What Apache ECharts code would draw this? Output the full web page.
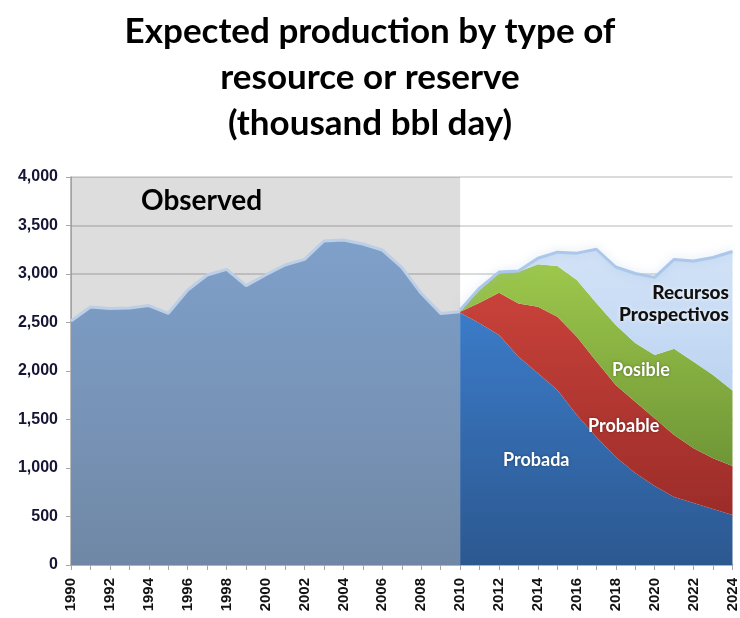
<!DOCTYPE html>
<html>
<head>
<meta charset="utf-8">
<script src="https://cdn.jsdelivr.net/npm/echarts@6/dist/echarts.min.js"></script>
<style>
html,body{margin:0;padding:0;background:#fff;}
#chart{width:740px;height:618px;}
</style>
</head>
<body>
<div id="chart"></div>
<script>
// ---- data ----
const years = [];
for (let y = 1990; y <= 2024; y++) years.push(String(y));

const observedYears = ['1990','1991','1992','1993','1994','1995','1996','1997','1998','1999','2000',
  '2001','2002','2003','2004','2005','2006','2007','2008','2009','2010'];
const observed = [2515, 2660, 2645, 2650, 2675, 2595, 2835, 2990, 3048, 2880, 2990,
  3093, 3151, 3340, 3350, 3309, 3247, 3069, 2801, 2594, 2610];

const forecastYears = ['2010','2011','2012','2013','2014','2015','2016','2017','2018','2019','2020','2021','2022','2023','2024'];
const probada  = [2600, 2491, 2371, 2148, 1976, 1804, 1546, 1320, 1113, 948, 814, 701, 639, 577, 515];
const probable = [10, 213, 436, 549, 687, 756, 808, 780, 743, 736, 698, 639, 564, 523, 505];
const posible  = [10, 131, 200, 327, 437, 522, 584, 601, 618, 605, 653, 890, 892, 860, 780];
const recursos = [10, 20, 13, 6, 62, 143, 277, 554, 598, 716, 800, 920, 1040, 1210, 1432];

const yTicks = [0, 500, 1000, 1500, 2000, 2500, 3000, 3500, 4000];
const observedPanel = ['1990', '2010'];

// ---- helpers ----
function alignTo(cats, vals) {
  const m = {};
  cats.forEach((c, i) => m[c] = vals[i]);
  return years.map(y => (y in m ? m[y] : null));
}
function grad(top, bottom) {
  return new echarts.graphic.LinearGradient(0, 0, 0, 1, [
    { offset: 0, color: top }, { offset: 1, color: bottom }
  ]);
}

const chart = echarts.init(document.getElementById('chart'), null, { renderer: 'canvas' });

const labelFont = '"Liberation Sans", Arial, sans-serif';
const calibriLike = 'Lato, "Open Sans", sans-serif';
const whiteLabel = { fontFamily: calibriLike, fontWeight: 'bold', fontSize: 18, fill: '#fff',
                     textShadowColor: 'rgba(0,0,0,0.35)', textShadowBlur: 3 };
const darkLabel = { fontFamily: calibriLike, fontWeight: 900, fontSize: 19, fill: '#111',
                    textShadowColor: 'rgba(255,255,255,0.9)', textShadowBlur: 4 };

const option = {
  animation: false,
  backgroundColor: '#ffffff',
  title: {
    text: 'Expected production by type of\nresource or reserve\n(thousand bbl day)',
    left: 'center',
    top: 4,
    textStyle: {
      fontFamily: calibriLike, fontWeight: 'bold', fontSize: 35,
      lineHeight: 46, color: '#000', align: 'center'
    }
  },
  grid: { left: 71, right: 2, top: 177, bottom: 53, containLabel: false },
  xAxis: {
    type: 'category',
    data: years,
    boundaryGap: false,
    axisLine: { lineStyle: { color: '#a6a6a6', width: 1.5 } },
    axisTick: { show: true, interval: 0, length: 5, lineStyle: { color: '#a6a6a6' } },
    axisLabel: {
      interval: 1, rotate: 90, margin: 13,
      fontFamily: labelFont, fontWeight: 'bold', fontSize: 15, color: '#111'
    },
    splitLine: { show: false }
  },
  yAxis: {
    type: 'value',
    min: yTicks[0], max: yTicks[yTicks.length - 1], interval: 500,
    axisLine: { show: true, lineStyle: { color: '#a6a6a6', width: 1.5 } },
    axisTick: { show: true, length: 5, lineStyle: { color: '#a6a6a6' } },
    axisLabel: {
      margin: 13, fontFamily: labelFont, fontWeight: 'bold', fontSize: 16, color: '#151535',
      formatter: v => v.toLocaleString('en-US')
    },
    splitLine: { lineStyle: { color: '#cfcfcf', width: 1.5 } }
  },
  series: [
    {
      name: 'Observed', type: 'line', data: alignTo(observedYears, observed),
      symbol: 'none', z: 2,
      lineStyle: { color: '#bccfe6', width: 3 },
      areaStyle: { color: grad('#7fa0ca', '#7088a6'), opacity: 1 },
      markArea: {
        silent: true,
        itemStyle: { color: 'rgba(0,0,0,0.135)' },
        data: [[{ xAxis: observedPanel[0] }, { xAxis: observedPanel[1] }]]
      }
    },
    {
      name: 'Probada', type: 'line', stack: 'f', data: alignTo(forecastYears, probada),
      symbol: 'none', z: 3,
      lineStyle: { width: 0 },
      areaStyle: { color: grad('#3b7bc8', '#2c5890'), opacity: 1 }
    },
    {
      name: 'Probable', type: 'line', stack: 'f', data: alignTo(forecastYears, probable),
      symbol: 'none', z: 3,
      lineStyle: { width: 0 },
      areaStyle: { color: grad('#c8423a', '#9c2c29'), opacity: 1 }
    },
    {
      name: 'Posible', type: 'line', stack: 'f', data: alignTo(forecastYears, posible),
      symbol: 'none', z: 3,
      lineStyle: { width: 0 },
      areaStyle: { color: grad('#9dc84c', '#6f9636'), opacity: 1 }
    },
    {
      name: 'Recursos Prospectivos', type: 'line', stack: 'f', data: alignTo(forecastYears, recursos),
      symbol: 'none', z: 3,
      lineStyle: { color: '#abc7ea', width: 3, shadowBlur: 10, shadowColor: 'rgba(150,180,220,0.45)' },
      areaStyle: { color: grad('#d3e3f7', '#bcd4f1'), opacity: 1 }
    }
  ],
  graphic: [
    { type: 'text', left: 141, top: 187, z: 100,
      style: { text: 'Observed', fontFamily: calibriLike, fontWeight: 'bold', fontSize: 28, fill: '#000' } },
    { type: 'text', right: 11, top: 283, z: 100, style: Object.assign({ text: 'Recursos' }, darkLabel) },
    { type: 'text', right: 11, top: 305, z: 100, style: Object.assign({ text: 'Prospectivos' }, darkLabel) },
    { type: 'text', left: 612, top: 361, z: 100, style: Object.assign({ text: 'Posible' }, whiteLabel) },
    { type: 'text', left: 588, top: 417, z: 100, style: Object.assign({ text: 'Probable' }, whiteLabel) },
    { type: 'text', left: 503, top: 451, z: 100, style: Object.assign({ text: 'Probada' }, whiteLabel) }
  ]
};
chart.setOption(option);
</script>
</body>
</html>
